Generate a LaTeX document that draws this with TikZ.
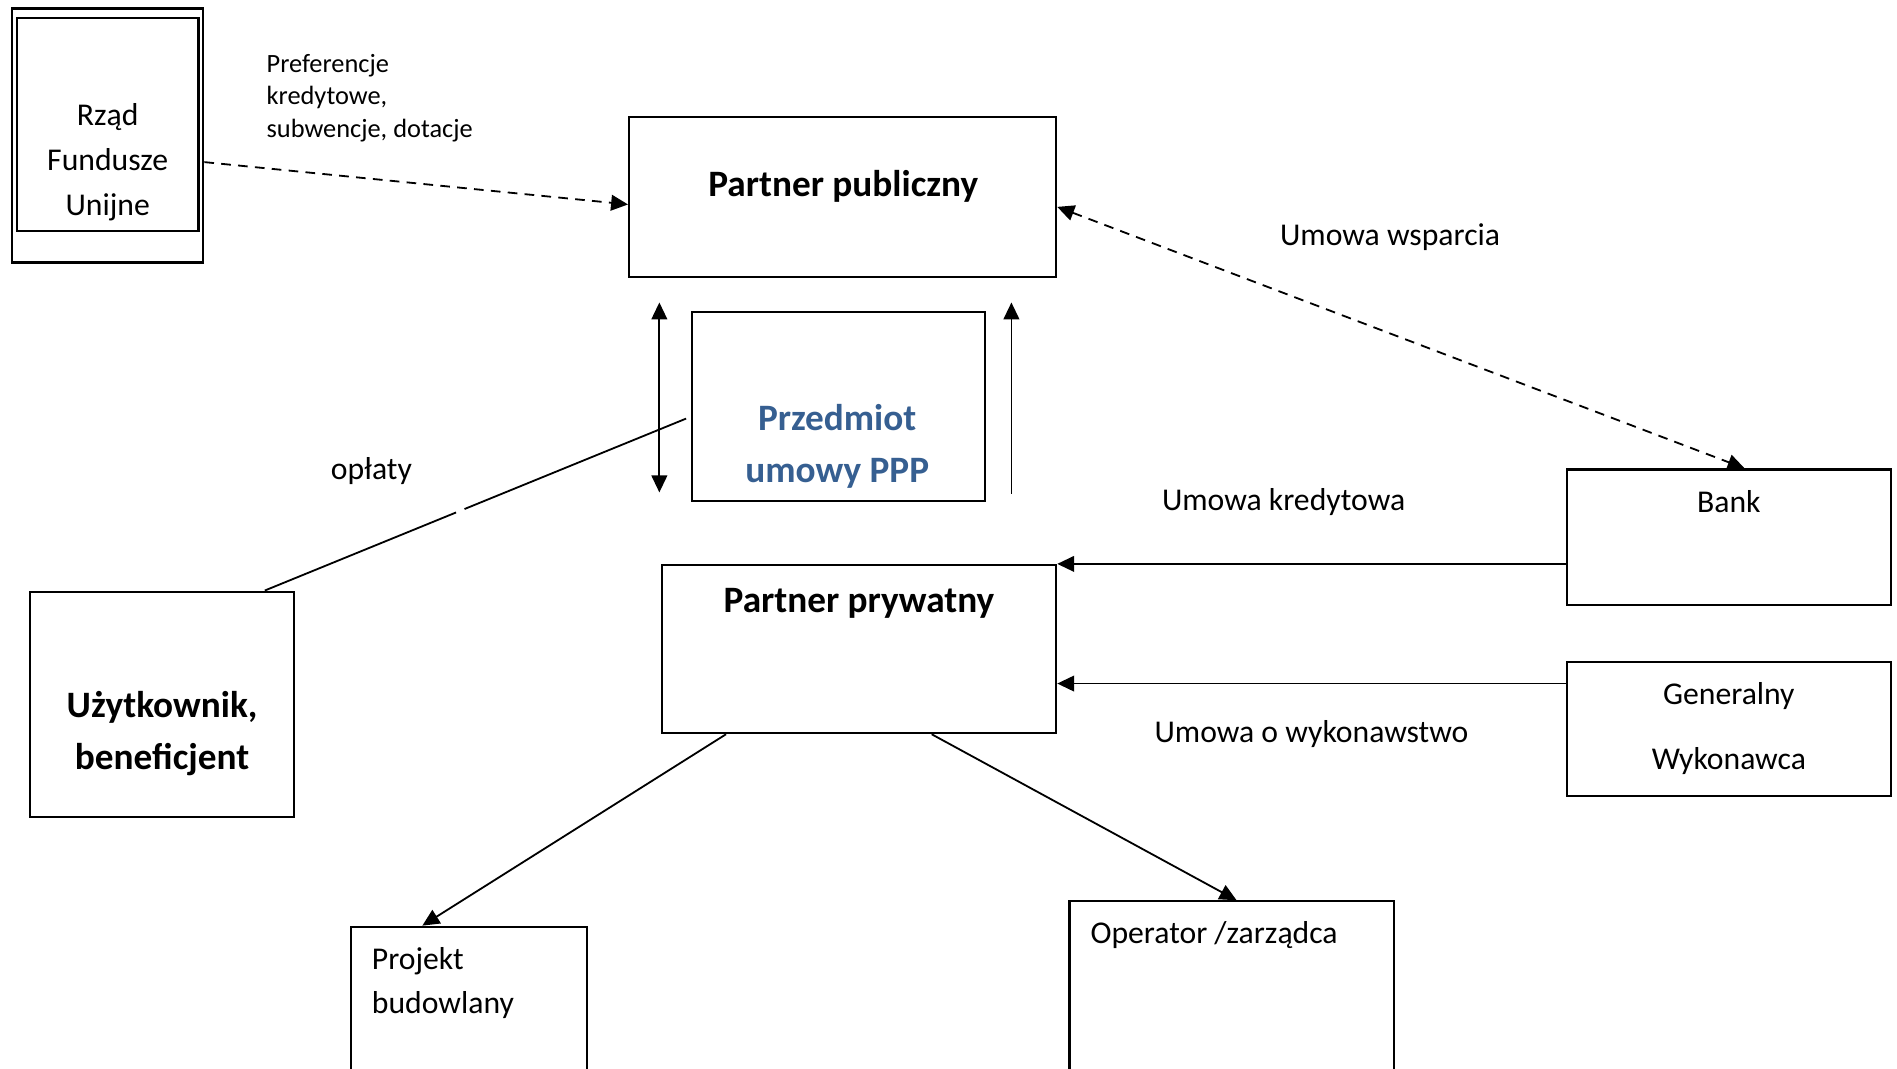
\documentclass[tikz,border=0pt]{standalone}
\usepackage{fontspec}
\setmainfont{Carlito}
\usetikzlibrary{arrows.meta,calc}
\definecolor{ppblue}{RGB}{54,95,145}
\begin{document}
\begin{tikzpicture}[x=0.5pt,y=-0.5pt,
  box/.style={draw, line width=0.9pt, rectangle, inner sep=0pt},
  conn/.style={line width=0.75pt},
  arr/.style={conn, -{Triangle[length=7pt,width=6.5pt]}},
  dblarr/.style={conn, {Triangle[length=7pt,width=6.5pt]}-{Triangle[length=7pt,width=6.5pt]}},
  dsh/.style={dash pattern=on 4pt off 3pt},
  lbl/.style={font=\fontsize{13.1}{18}\selectfont, inner sep=0pt},
  bld/.style={font=\fontsize{15.4}{21.5}\selectfont\bfseries, inner sep=0pt}]
\useasboundingbox (0,0) rectangle (1568,883);
\clip (0,0) rectangle (1568,883);

% boxes
\node[box, minimum width=79pt, minimum height=105pt] (rzadout) at (89,112) {};
\node[box, minimum width=75pt, minimum height=88pt] (rzad) at (89,103) {};
\node[box, minimum width=176.5pt, minimum height=66pt] (pp) at (696.5,163) {};
\node[box, minimum width=121pt, minimum height=78pt] (przed) at (693,336) {};
\node[box, minimum width=163pt, minimum height=69.5pt] (ppriv) at (710,536.5) {};
\node[box, minimum width=109pt, minimum height=93pt] (uzyt) at (134,582) {};
\node[box, minimum width=134pt, minimum height=56pt] (bank) at (1429,444) {};
\node[box, minimum width=134pt, minimum height=55.5pt] (gw) at (1429,602.5) {};
\node[box, minimum width=97.5pt, minimum height=117pt] (proj) at (387.5,883) {};
\node[box, minimum width=134pt, minimum height=127.5pt] (oper) at (1018,872.5) {};

% texts in boxes
\node[lbl, align=center, font=\fontsize{13.1}{18.75}\selectfont] (rzadtxt) at (89,134) {Rząd\\Fundusze\\Unijne};
\node[bld] (pptxt) at (697,154) {Partner publiczny};
\node[bld, text=ppblue, align=center] (przedtxt) at (692,369) {Przedmiot\\umowy PPP};
\node[bld] (pprivtxt) at (710,499) {Partner prywatny};
\node[bld, align=center] (uzyttxt) at (134,606.5) {Użytkownik,\\beneficjent};
\node[lbl] (banktxt) at (1429,415) {Bank};
\node[lbl, align=center, font=\fontsize{13.1}{27}\selectfont] (gwtxt) at (1429,602) {Generalny\\Wykonawca};
\node[lbl, align=left, anchor=west, font=\fontsize{13.1}{18.5}\selectfont] (projtxt) at (307,812.5) {Projekt\\budowlany};
\node[lbl, anchor=west] (opertxt) at (901,773) {Operator /zarządca};

% connector labels
\node[lbl, align=left, anchor=west, font=\fontsize{10.9}{13.5}\selectfont] (preftxt) at (220,81) {Preferencje\\kredytowe,\\subwencje, dotacje};
\node[lbl] (wsptxt) at (1149,196) {Umowa wsparcia};
\node[lbl] (oplaty) at (307,389) {opłaty};
\node[lbl] (kredtxt) at (1061,415) {Umowa kredytowa};
\node[lbl] (wyktxt) at (1084,607) {Umowa o wykonawstwo};

% connectors
\draw[arr, dsh] (rzadout.east |- rzadtxt) -- ([yshift=-3pt]pp.west);
\draw[dblarr, dsh] ([yshift=-4pt]pp.east) -- ([xshift=6.5pt]bank.north);

\coordinate (v1a) at (545,250);
\coordinate (v1b) at (545,407);
\draw[dblarr] (v1a) -- (v1b);
\coordinate (v2a) at (836,408);
\coordinate (v2b) at (836,250);
\draw[arr] (v2a) -- (v2b);

\coordinate (la) at ([shift={(-2pt,-5pt)}]przed.west);
\coordinate (lb) at ([xshift=-12.5pt]uzyt.north east);
\draw[conn] (la) -- ($(la)!0.526!(lb)$) ($(la)!0.546!(lb)$) -- (lb);

\draw[arr] (bank.west |- ppriv.north) -- (ppriv.north east);
\coordinate (g1) at ([yshift=18.75pt]gw.west);
\draw[arr] (g1) -- (ppriv.east |- g1);

\draw[arr] ([xshift=27pt]ppriv.south west) -- ([xshift=30pt]proj.north west);
\draw[arr] ([xshift=112pt]ppriv.south west) -- ([xshift=69.5pt]oper.north west);
\end{tikzpicture}
\end{document}
